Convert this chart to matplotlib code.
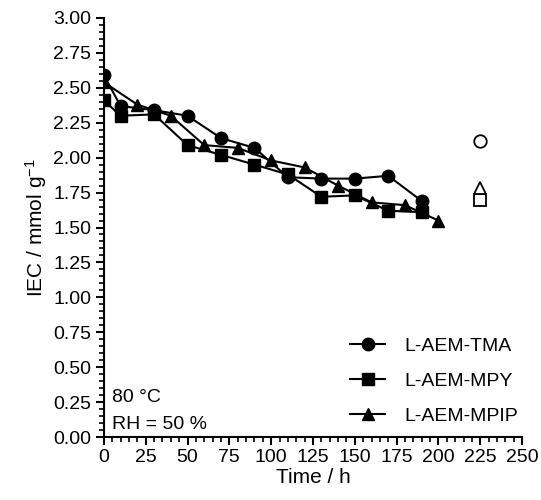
import matplotlib
matplotlib.use('Agg')
import matplotlib.pyplot as plt
import numpy as np

plt.rcParams['font.family'] = ['Liberation Sans', 'DejaVu Sans']
plt.rcParams['mathtext.default'] = 'regular'

# data
t_tma = [0, 10, 30, 50, 70, 90, 110, 130, 150, 170, 190]
iec_tma = [2.59, 2.37, 2.34, 2.30, 2.14, 2.07, 1.86, 1.85, 1.85, 1.87, 1.69]

t_mpy = [0, 10, 30, 50, 70, 90, 110, 130, 150, 170, 190]
iec_mpy = [2.41, 2.30, 2.31, 2.09, 2.02, 1.95, 1.88, 1.72, 1.73, 1.62, 1.61]

t_mpip = [0, 20, 40, 60, 80, 100, 120, 140, 160, 180, 200]
iec_mpip = [2.54, 2.38, 2.30, 2.09, 2.07, 1.98, 1.93, 1.80, 1.68, 1.66, 1.55]

# open symbols at 225 h
t_open = 225
open_tma = 2.12
open_mpy = 1.70
open_mpip = 1.78

labels = ["L-AEM-TMA", "L-AEM-MPY", "L-AEM-MPIP"]

fig = plt.figure(figsize=(5.41, 5.00), dpi=100)
ax = fig.add_axes([0.192, 0.126, 0.773, 0.838])

ms = 9
ax.plot(t_tma, iec_tma, '-o', color='black', lw=1.5, ms=ms, label=labels[0])
ax.plot(t_mpy, iec_mpy, '-s', color='black', lw=1.5, ms=ms, label=labels[1])
ax.plot(t_mpip, iec_mpip, '-^', color='black', lw=1.5, ms=ms, label=labels[2])

ax.plot([t_open], [open_tma], 'o', mfc='white', mec='black', mew=1.3, ms=ms)
ax.plot([t_open], [open_mpy], 's', mfc='white', mec='black', mew=1.3, ms=ms)
ax.plot([t_open], [open_mpip], '^', mfc='white', mec='black', mew=1.3, ms=ms)

ax.set_xlim(0, 250)
ax.set_ylim(0, 3.0)
ax.set_xticks(np.arange(0, 251, 25))
ax.set_xticks(np.arange(0, 251, 5), minor=True)
ax.set_yticks(np.arange(0, 3.01, 0.25))
ax.set_yticks(np.arange(0, 3.01, 0.05), minor=True)
ax.yaxis.set_major_formatter(matplotlib.ticker.FormatStrFormatter('%.2f'))

for s in ['top', 'right']:
    ax.spines[s].set_visible(False)
for s in ['left', 'bottom']:
    ax.spines[s].set_linewidth(1.5)

ax.tick_params(which='major', direction='out', length=6, width=1.5, labelsize=14, pad=3)
ax.tick_params(which='minor', direction='out', length=3.5, width=1.2)

ax.set_xlabel("Time / h", fontsize=15, labelpad=1)
ax.set_ylabel("IEC / mmol g$^{-1}$", fontsize=15, labelpad=3)

ax.text(5, 0.28, "80 °C", fontsize=14, va='center')
ax.text(5, 0.086, "RH = 50 %", fontsize=14, va='center')

ax.legend(loc='lower right', frameon=False, fontsize=14, handlelength=1.8,
          labelspacing=0.9, handletextpad=1.0, borderaxespad=0.1,
          bbox_to_anchor=(1.015, 0.005))

fig.savefig('out.png', dpi=100)
